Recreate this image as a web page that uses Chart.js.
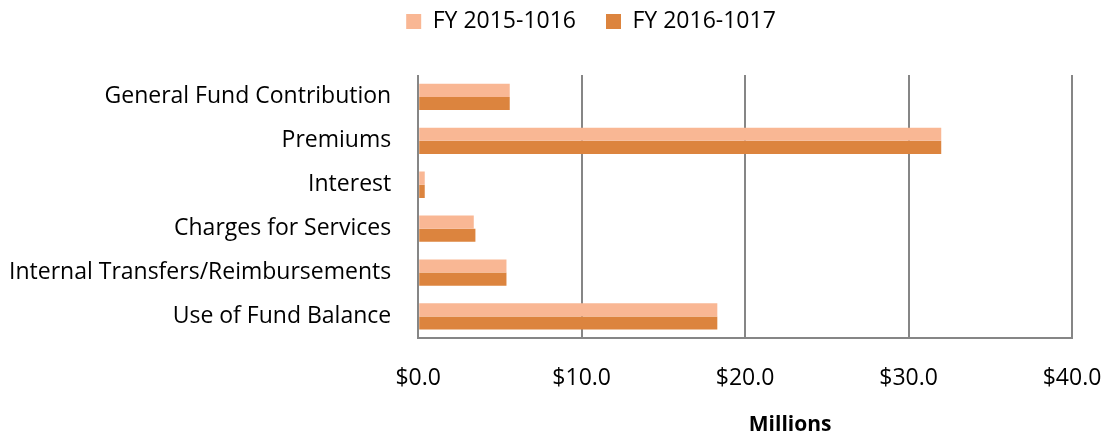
<!DOCTYPE html>
<html>
<head>
<meta charset="utf-8">
<script src="https://cdn.jsdelivr.net/npm/chart.js@4"></script>
<style>
  html, body { margin: 0; padding: 0; background: #fff; }
  #wrap { width: 1107px; height: 436px; }
</style>
</head>
<body>
<div id="wrap"><canvas id="myChart"></canvas></div>
<script>
// Data
const categories = ['General Fund Contribution', 'Premiums', 'Interest', 'Charges for Services', 'Internal Transfers/Reimbursements', 'Use of Fund Balance'];
const fy2015 = [5.6, 32.0, 0.4, 3.4, 5.4, 18.3];
const fy2016 = [5.6, 32.0, 0.4, 3.5, 5.4, 18.3];
const xTicks = [0, 10, 20, 30, 40];

const FONT = 'Open Sans';
const FSIZE = 23;
const GRID = '#868686';

// Axis title drawn a bit right of centre, like the original
const millionsTitle = {
  id: 'millionsTitle',
  afterDraw(chart) {
    const c = chart.ctx;
    const area = chart.chartArea;
    c.save();
    c.font = 'bold 21px ' + FONT;
    c.fillStyle = '#000';
    c.textAlign = 'center';
    c.textBaseline = 'middle';
    c.fillText('Millions', (area.left + area.right) / 2 + 45, area.bottom + 87);
    c.restore();
  }
};

// more room under the legend, and legend sits a bit right of centre
const legendTweak = {
  id: 'legendTweak',
  beforeInit(chart) {
    const lg = chart.legend;
    const fit = lg.fit;
    lg.fit = function () {
      fit.bind(lg)();
      this.height += 32;
    };
    const draw = lg.draw;
    lg.draw = function () {
      const c = chart.ctx;
      c.save();
      c.translate(60, 0);
      draw.bind(lg)();
      c.restore();
    };
  }
};

const ctx = document.getElementById('myChart');

new Chart(ctx, {
  type: 'bar',
  data: {
    labels: categories,
    datasets: [{
      label: 'FY 2015-1016',
      data: fy2015,
      backgroundColor: '#F9B794',
      categoryPercentage: 0.6,
      barPercentage: 1.0
    }, {
      label: 'FY 2016-1017',
      data: fy2016,
      backgroundColor: '#DC843E',
      categoryPercentage: 0.6,
      barPercentage: 1.0
    }]
  },
  options: {
    indexAxis: 'y',
    responsive: true,
    maintainAspectRatio: false,
    animation: false,
    layout: {
      padding: { top: -20, right: 35, bottom: 18, left: -10 }
    },
    scales: {
      x: {
        min: 0,
        max: 40,
        afterBuildTicks: (axis) => { axis.ticks = xTicks.map(v => ({ value: v })); },
        afterFit: (axis) => { axis.paddingRight = 0; axis.paddingLeft = 0; },
        grid: {
          color: GRID,
          lineWidth: 2,
          drawTicks: false
        },
        border: { display: true, color: GRID, width: 2 },
        ticks: {
          padding: 26,
          color: '#000',
          font: { family: FONT, size: FSIZE },
          callback: (v) => '$' + Number(v).toFixed(1)
        }
      },
      y: {
        grid: { display: false },
        border: { display: false },
        ticks: {
          padding: 19,
          color: '#000',
          font: { family: FONT, size: FSIZE }
        }
      }
    },
    plugins: {
      legend: {
        position: 'top',
        labels: {
          color: '#000',
          font: { family: FONT, size: FSIZE },
          boxWidth: 15,
          boxHeight: 15,
          padding: 30
        }
      },
      tooltip: { enabled: false }
    }
  },
  plugins: [millionsTitle, legendTweak]
});
</script>
</body>
</html>
